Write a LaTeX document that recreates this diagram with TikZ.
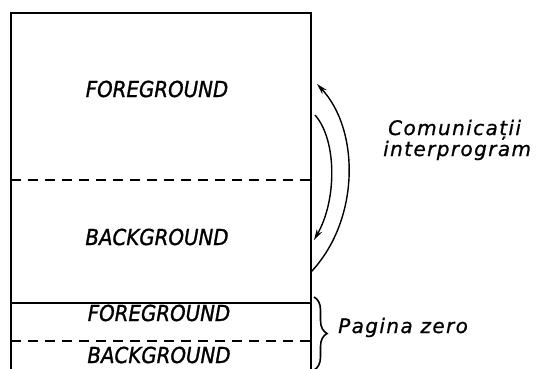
\documentclass[tikz,border=0pt]{standalone}
\usepackage{fontspec}
\setmainfont{DejaVu Sans}
\newfontfamily\labfont{DejaVu Sans}[FakeStretch=0.9,FakeBold=1.2]
\newfontfamily\notefont{DejaVu Sans}[LetterSpace=7,FakeBold=0.8]
\usetikzlibrary{arrows.meta,decorations.pathreplacing}
\tikzset{
  wall/.style={line width=2.4pt},
  sep/.style={line width=2.6pt, dash pattern=on 10pt off 7pt},
  lab/.style={font=\labfont\itshape\fontsize{22}{24}\selectfont, inner sep=0pt, anchor=base},
  note/.style={font=\notefont\itshape\fontsize{20}{22}\selectfont, inner sep=0pt, anchor=base west},
  arc/.style={line width=1.4pt, -{Stealth[length=11pt,width=6pt]}},
}
\begin{document}
\begin{tikzpicture}[x=1pt,y=-1pt]
\useasboundingbox (0,0) rectangle (538,368);
\clip (0,0) rectangle (538,368);
% memory box
\draw[wall] (11,375) -- (11,13) -- (311,13) -- (311,375);
\draw[wall] (11,303) -- (311,303);
\draw[sep] (11,180) -- (311,180);
\draw[sep] (11,341) -- (311,341);
% labels
\node[lab] (fg) at (157,97) {FOREGROUND};
\node[lab] (bg) at (157,245) {BACKGROUND};
\node[lab] (fg0) at (159,321) {FOREGROUND};
\node[lab] (bg0) at (159,363) {BACKGROUND};
% arcs
\coordinate (oS) at (311,272);
\coordinate (oE) at (317,84);
\coordinate (iS) at (315,115);
\coordinate (iE) at (314,240);
\draw[arc] (oS) .. controls (360,220) and (360,130) .. (oE);
\draw[arc] (iS) .. controls (337,140) and (337,200) .. (iE);
\node[note] (com) at (388,135) {Comunicații};
\node[note] (int) at (383,156) {interprogram};
% brace
\draw[line width=1.6pt, decorate, decoration={brace, amplitude=13pt}] (314,297) -- (314,370);
\node[note] (pz) at (338,333) {Pagina zero};
\end{tikzpicture}
\end{document}
